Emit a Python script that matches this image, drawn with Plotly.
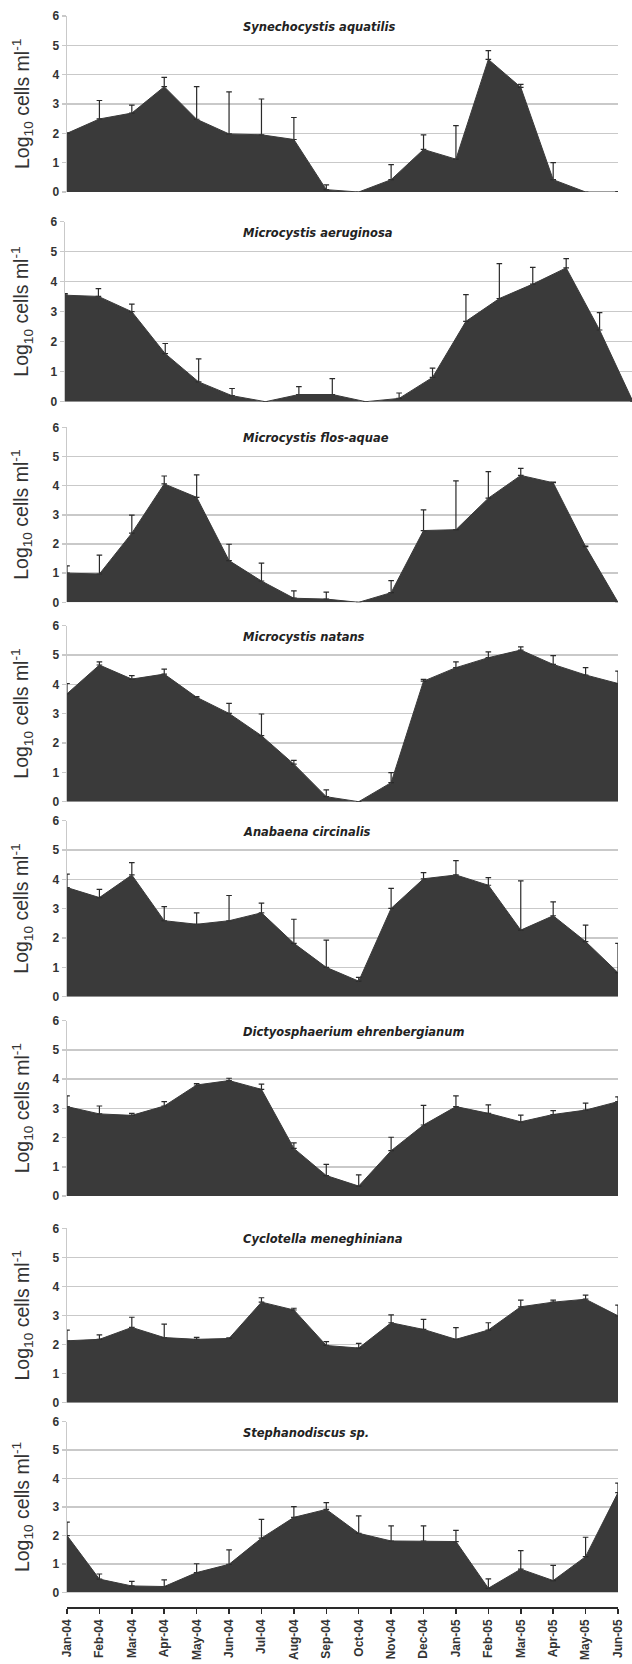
import plotly.graph_objects as go

months = ["Jan-04", "Feb-04", "Mar-04", "Apr-04", "May-04", "Jun-04", "Jul-04", "Aug-04", "Sep-04",
          "Oct-04", "Nov-04", "Dec-04", "Jan-05", "Feb-05", "Mar-05", "Apr-05", "May-05", "Jun-05"]

species = ["Synechocystis aquatilis", "Microcystis aeruginosa", "Microcystis flos-aquae",
           "Microcystis natans", "Anabaena circinalis", "Dictyosphaerium ehrenbergianum",
           "Cyclotella meneghiniana", "Stephanodiscus sp."]

syn_vals = [2.0, 2.49, 2.69, 3.59, 2.48, 1.98, 1.95, 1.79, 0.08, 0.0, 0.42, 1.45, 1.12, 4.52, 3.57, 0.42, 0.0, 0.0]
syn_err = [0.02, 0.63, 0.27, 0.32, 1.11, 1.43, 1.22, 0.75, 0.16, 0.0, 0.51, 0.5, 1.14, 0.3, 0.1, 0.58, 0.0, 0.01]

aer_vals = [3.55, 3.51, 3.0, 1.6, 0.66, 0.2, 0.0, 0.24, 0.24, 0.0, 0.11, 0.81, 2.68, 3.44, 3.92, 4.46, 2.39, 0.0]
aer_err = [0.05, 0.26, 0.25, 0.34, 0.77, 0.24, 0.0, 0.26, 0.53, 0.0, 0.18, 0.31, 0.89, 1.16, 0.56, 0.31, 0.58, 0.0]

flo_vals = [1.0, 0.97, 2.37, 4.06, 3.6, 1.43, 0.73, 0.14, 0.11, 0.0, 0.33, 2.46, 2.49, 3.57, 4.35, 4.1, 1.91, 0.0]
flo_err = [0.25, 0.65, 0.62, 0.27, 0.77, 0.56, 0.61, 0.25, 0.24, 0.0, 0.41, 0.71, 1.67, 0.91, 0.24, 0.02, 0.02, 0.0]

nat_vals = [3.68, 4.66, 4.18, 4.35, 3.56, 3.01, 2.25, 1.28, 0.17, 0.0, 0.65, 4.11, 4.57, 4.91, 5.17, 4.68, 4.32, 4.03]
nat_err = [0.35, 0.11, 0.12, 0.17, 0.02, 0.34, 0.74, 0.13, 0.23, 0.0, 0.34, 0.06, 0.2, 0.2, 0.11, 0.3, 0.25, 0.42]

ana_vals = [3.72, 3.38, 4.15, 2.59, 2.47, 2.59, 2.86, 1.82, 1.0, 0.53, 3.01, 4.02, 4.15, 3.8, 2.27, 2.76, 1.88, 0.82]
ana_err = [0.46, 0.28, 0.42, 0.48, 0.39, 0.86, 0.33, 0.82, 0.93, 0.13, 0.68, 0.21, 0.49, 0.26, 1.68, 0.47, 0.56, 1.0]

dic_vals = [3.06, 2.81, 2.76, 3.08, 3.8, 3.95, 3.65, 1.63, 0.7, 0.34, 1.55, 2.43, 3.06, 2.83, 2.54, 2.79, 2.94, 3.23]
dic_err = [0.37, 0.27, 0.07, 0.15, 0.05, 0.08, 0.18, 0.19, 0.38, 0.38, 0.46, 0.67, 0.37, 0.29, 0.23, 0.13, 0.24, 0.16]

cyc_vals = [2.13, 2.18, 2.59, 2.24, 2.18, 2.21, 3.46, 3.19, 1.97, 1.88, 2.75, 2.52, 2.18, 2.5, 3.3, 3.46, 3.56, 2.99]
cyc_err = [0.37, 0.15, 0.35, 0.46, 0.07, 0.02, 0.15, 0.06, 0.13, 0.16, 0.27, 0.35, 0.4, 0.25, 0.23, 0.07, 0.14, 0.37]

ste_vals = [2.0, 0.47, 0.23, 0.21, 0.7, 0.99, 1.91, 2.64, 2.92, 2.08, 1.81, 1.81, 1.79, 0.15, 0.82, 0.42, 1.26, 3.51]
ste_err = [0.47, 0.18, 0.16, 0.23, 0.31, 0.51, 0.66, 0.38, 0.24, 0.61, 0.53, 0.53, 0.39, 0.33, 0.65, 0.53, 0.68, 0.33]

y_ticks = [0, 1, 2, 3, 4, 5, 6]

series_vals = [syn_vals, aer_vals, flo_vals, nat_vals, ana_vals, dic_vals, cyc_vals, ste_vals]
series_err = [syn_err, aer_err, flo_err, nat_err, ana_err, dic_err, cyc_err, ste_err]

W, H = 632, 1664
# panel geometry in window pixels: top (6 line), bottom (0 line), left, right, x range end
panels = [
    (16.0, 192.0, 67, 618, 17),
    (221.7, 401.7, 65, 632, 16.97),
    (427.3, 602.3, 67, 618, 17),
    (625.7, 801.7, 67, 618, 17),
    (820.7, 996.7, 67, 618, 17),
    (1020.7, 1196.0, 67, 618, 17),
    (1228.3, 1402.7, 67, 618, 17),
    (1421.7, 1592.5, 67, 618, 17),
]
xaxis_line_px = 1607


def px(xw):
    return xw / W


def py(yw):
    return 1 - yw / H


FILL = "#3a3a3a"
GRID = "#c9c9c9"
TXT = "#333333"
FONT = "Liberation Sans, Arial, sans-serif"
TFONT = "DejaVu Sans, Liberation Sans, sans-serif"

fig = go.Figure()
layout = dict(
    width=W, height=H, margin=dict(l=0, r=0, t=0, b=0, pad=0), autosize=False,
    paper_bgcolor="white", plot_bgcolor="white", showlegend=False,
    font=dict(family=FONT, color=TXT),
)
annotations = []
xs = list(range(len(months)))

for i, (top, bot, left, right, xend) in enumerate(panels):
    n = i + 1
    xa = "x" if n == 1 else f"x{n}"
    ya = "y" if n == 1 else f"y{n}"
    fig.add_trace(go.Scatter(
        x=xs, y=series_vals[i], xaxis=xa, yaxis=ya, mode="lines",
        line=dict(color=FILL, width=1), fill="tozeroy", fillcolor=FILL,
        error_y=dict(type="data", symmetric=False, array=series_err[i],
                     arrayminus=[0] * len(months), color="#2a2a2a", thickness=1.2, width=2.8),
        hoverinfo="skip",
    ))
    xkey = "xaxis" if n == 1 else f"xaxis{n}"
    ykey = "yaxis" if n == 1 else f"yaxis{n}"
    ydom = [py(bot), py(top)]
    xdom = [px(left), min(1.0, px(right))]
    xdict = dict(domain=xdom, range=[0, xend], showgrid=False, zeroline=False, automargin=False,
                 anchor=ya if n != 8 else "free", fixedrange=True)
    if n == 8:
        xdict.update(dict(position=py(xaxis_line_px), showline=True, linecolor="#2a2a2a",
                          linewidth=1.5, ticks="outside", ticklen=5, tickcolor="#2a2a2a",
                          tickwidth=1.5, tickmode="array", tickvals=xs, ticktext=months,
                          tickangle=-90, ticklabelstandoff=1,
                          tickfont=dict(family=FONT, size=12, color=TXT, weight="bold")))
    else:
        xdict.update(dict(showline=False, showticklabels=False, ticks=""))
    layout[xkey] = xdict
    layout[ykey] = dict(domain=ydom, range=[0, 6], tickmode="array", tickvals=y_ticks,
                        showgrid=True, gridcolor=GRID, gridwidth=1.5, zeroline=False,
                        showline=True, linecolor=GRID, linewidth=1.5, ticks="outside",
                        ticklen=4, tickcolor=GRID, tickwidth=1.5, anchor=xa, automargin=False,
                        tickfont=dict(family=FONT, size=12, color=TXT, weight="bold"),
                        fixedrange=True)
    annotations.append(dict(
        text=f"<b><i>{species[i]}</i></b>", xref="paper", yref="paper",
        x=px(241), y=py(top + 11), xanchor="left", yanchor="middle",
        showarrow=False, font=dict(family=TFONT, size=11.5, color="#222222"),
    ))
    annotations.append(dict(
        text="Log<sub>10</sub> cells ml<sup>-1</sup>", xref="paper", yref="paper",
        x=px(22), y=py((top + bot) / 2), xanchor="center", yanchor="middle",
        textangle=-90, showarrow=False, font=dict(family=FONT, size=19.5, color=TXT),
    ))

layout["annotations"] = annotations
fig.update_layout(**layout)
fig.write_html(
    "out.html",
    config={"displayModeBar": False, "staticPlot": True},
    post_script="document.body.style.margin='0';document.body.style.overflow='hidden';",
)
